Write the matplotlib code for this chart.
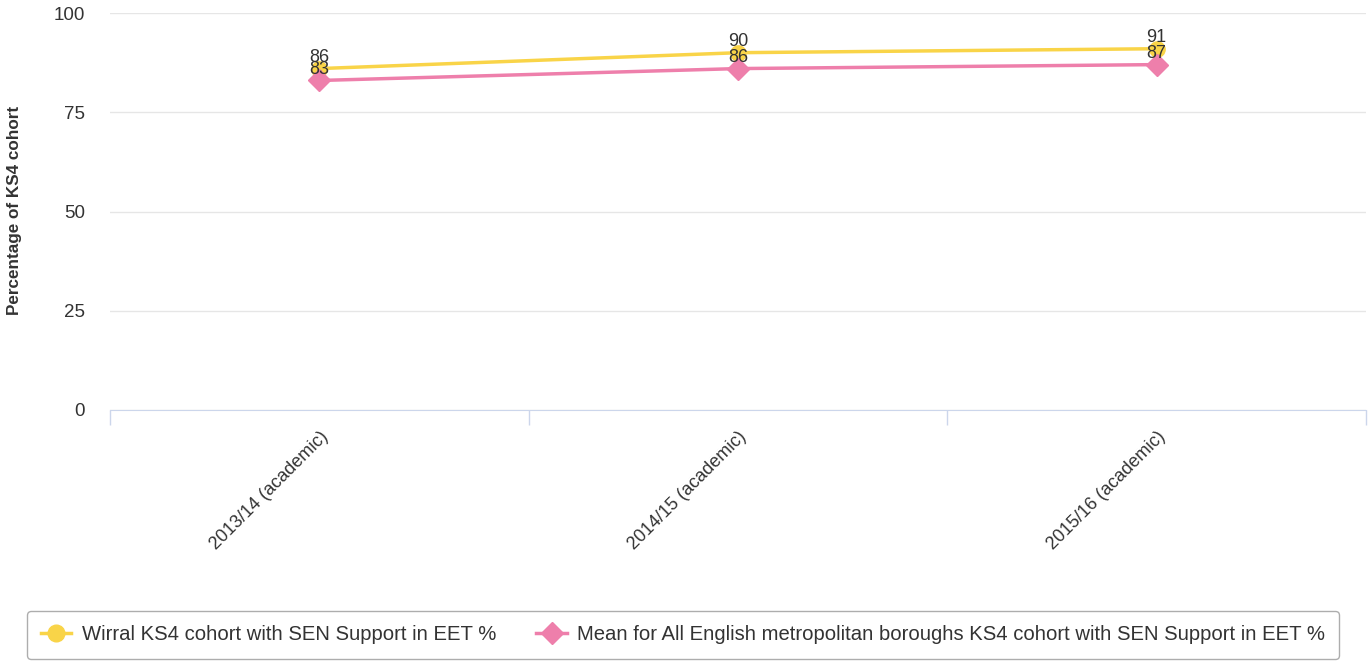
import matplotlib.pyplot as plt
from matplotlib.lines import Line2D

plt.rcParams["font.family"] = ["Liberation Sans", "DejaVu Sans"]

categories = ["2013/14 (academic)", "2014/15 (academic)", "2015/16 (academic)"]
wirral = [86, 90, 91]
mean_metro = [83, 86, 87]
y_ticks = [0, 25, 50, 75, 100]

YELLOW = "#f9d448"
PINK = "#ee7fab"
GRID = "#e6e6e6"
AXIS = "#ccd6eb"
TEXT = "#333333"

fig = plt.figure(figsize=(13.72, 6.64), dpi=100)
ax = fig.add_axes([110 / 1372, 1 - 410 / 664, 1256 / 1372, 397 / 664])

x = list(range(len(categories)))
ax.plot(x, wirral, color=YELLOW, lw=2.5, marker="o", ms=11, zorder=3)
ax.plot(x, mean_metro, color=PINK, lw=2.5, marker="D", ms=11, zorder=4)

for xi, v in zip(x, wirral):
    ax.annotate(str(v), (xi, v), xytext=(0, 2), textcoords="offset points",
                ha="center", va="bottom", fontsize=13, color=TEXT, zorder=5)
for xi, v in zip(x, mean_metro):
    ax.annotate(str(v), (xi, v), xytext=(0, 2), textcoords="offset points",
                ha="center", va="bottom", fontsize=13, color=TEXT, zorder=5)

ax.set_xlim(-0.5, len(categories) - 0.5)
ax.set_ylim(0, 100)
ax.set_yticks(y_ticks)
ax.set_yticklabels([str(t) for t in y_ticks], fontsize=13.5, color=TEXT)
ax.tick_params(axis="y", length=0, pad=18)
ax.grid(axis="y", color=GRID, lw=1)
ax.set_axisbelow(True)

# category ticks sit on the boundaries, labels at the centres
ax.set_xticks([i - 0.5 for i in range(len(categories) + 1)])
ax.set_xticklabels([])
ax.tick_params(axis="x", length=11, color=AXIS, width=1)
ax.set_xticks(x, minor=True)
ax.set_xticklabels(categories, minor=True, rotation=45, ha="right",
                   rotation_mode="anchor", fontsize=13, color=TEXT)
ax.tick_params(axis="x", which="minor", length=0, pad=13)

for side in ("top", "right", "left"):
    ax.spines[side].set_visible(False)
ax.spines["bottom"].set_color(AXIS)

fig.text(15 / 1372, 1 - 210 / 664, "Percentage of KS4 cohort", rotation=90,
         ha="center", va="center", fontsize=12.3, fontweight="bold", color=TEXT)

handles = [
    Line2D([], [], color=YELLOW, lw=2.5, marker="o", ms=12),
    Line2D([], [], color=PINK, lw=2.5, marker="D", ms=11),
]
labels = ["Wirral KS4 cohort with SEN Support in EET %",
          "Mean for All English metropolitan boroughs KS4 cohort with SEN Support in EET %"]
leg = fig.legend(handles, labels, loc="center", bbox_to_anchor=(683 / 1372, 1 - 635 / 664),
                 ncol=2, fontsize=14.6, frameon=True, fancybox=True, handlelength=1.5,
                 columnspacing=2.0, borderpad=0.7, handletextpad=0.5)
leg.get_frame().set_edgecolor("#999999")
leg.get_frame().set_linewidth(1)
for t in leg.get_texts():
    t.set_color(TEXT)

fig.savefig("out.png", dpi=100)
